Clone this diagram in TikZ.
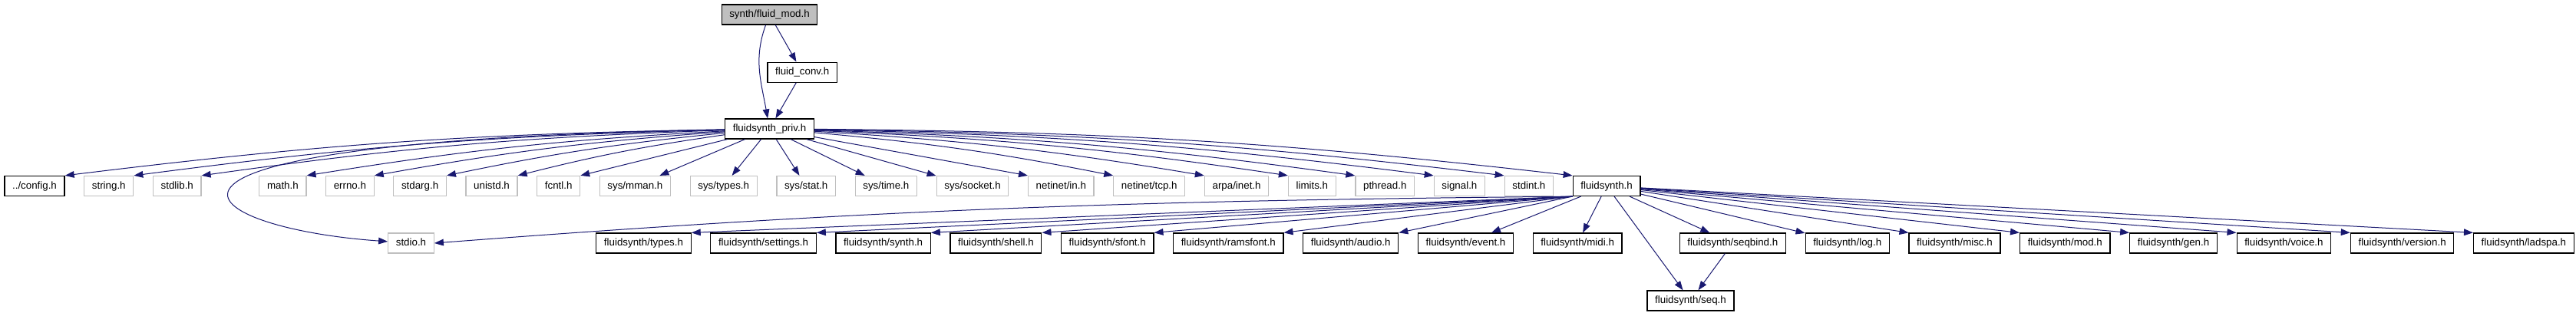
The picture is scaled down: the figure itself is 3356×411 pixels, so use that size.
\documentclass[tikz,border=0pt]{standalone}
\usepackage{fontspec}
\setmainfont{Liberation Sans}
\usepackage{xcolor}
\usetikzlibrary{positioning,arrows.meta}
\definecolor{midblue}{HTML}{191970}
\definecolor{grey75}{HTML}{BFBFBF}

\begin{document}
\begin{tikzpicture}[
  x=0.75pt, y=-0.75pt,
  font=\fontsize{10pt}{12pt}\selectfont,
  node distance=18.4pt,
  box/.style={draw, fill=white, inner xsep=7.6pt, inner ysep=0pt,
              text height=7.4pt, text depth=2.1pt,
              minimum height=19.5pt, line width=0.9pt},
  doc/.style={box},
  ext/.style={box, draw=grey75},
  cur/.style={box, fill=grey75},
  arr/.style={-{Triangle[length=9pt, width=6.5pt]}, midblue, line width=0.75pt},
]
\useasboundingbox (0,0) rectangle (3356,411);
% ---- top: the file itself and what it pulls in ------------------------
\node[cur] (mod) at (1002.5,19) {synth/fluid\_mod.h};
\node[doc, below=36pt of mod, xshift=32pt] (conv) {fluid\_conv.h};
\node[doc] (priv) at (1002.5,168) {fluidsynth\_priv.h};
% ---- system headers row -----------------------------------------------
\node[doc] (config) at (45,242.5) {../config.h};
\node[ext, right=of config] (string) {string.h};
\node[ext, right=of string] (stdlib) {stdlib.h};
\node[ext, right=56pt of stdlib] (math) {math.h};
\node[ext, right=of math] (errno) {errno.h};
\node[ext, right=of errno] (stdarg) {stdarg.h};
\node[ext, right=of stdarg] (unistd) {unistd.h};
\node[ext, right=of unistd] (fcntl) {fcntl.h};
\node[ext, right=of fcntl] (mman) {sys/mman.h};
\node[ext, right=of mman] (systypes) {sys/types.h};
\node[ext, right=of systypes] (sysstat) {sys/stat.h};
\node[ext, right=of sysstat] (systime) {sys/time.h};
\node[ext, right=of systime] (socket) {sys/socket.h};
\node[ext, right=of socket] (netin) {netinet/in.h};
\node[ext, right=of netin] (nettcp) {netinet/tcp.h};
\node[ext, right=of nettcp] (arpainet) {arpa/inet.h};
\node[ext, right=of arpainet] (limits) {limits.h};
\node[ext, right=of limits] (pthread) {pthread.h};
\node[ext, right=of pthread] (signal) {signal.h};
\node[ext, right=of signal] (stdint) {stdint.h};
\node[doc, right=of stdint] (fsynth) {fluidsynth.h};
% ---- public API row ---------------------------------------------------
\node[ext] (stdio) at (535.5,317) {stdio.h};
\node[doc] (ftypes) at (838.5,317) {fluidsynth/types.h};
\node[doc, right=of ftypes] (fsettings) {fluidsynth/settings.h};
\node[doc, right=of fsettings] (fsynthh) {fluidsynth/synth.h};
\node[doc, right=of fsynthh] (fshell) {fluidsynth/shell.h};
\node[doc, right=of fshell] (fsfont) {fluidsynth/sfont.h};
\node[doc, right=of fsfont] (framsfont) {fluidsynth/ramsfont.h};
\node[doc, right=of framsfont] (faudio) {fluidsynth/audio.h};
\node[doc, right=of faudio] (fevent) {fluidsynth/event.h};
\node[doc, right=of fevent] (fmidi) {fluidsynth/midi.h};
\node[doc, right=55.5pt of fmidi] (fseqbind) {fluidsynth/seqbind.h};
\node[doc, right=of fseqbind] (flog) {fluidsynth/log.h};
\node[doc, right=of flog] (fmisc) {fluidsynth/misc.h};
\node[doc, right=of fmisc] (fmod) {fluidsynth/mod.h};
\node[doc, right=of fmod] (fgen) {fluidsynth/gen.h};
\node[doc, right=of fgen] (fvoice) {fluidsynth/voice.h};
\node[doc, right=of fvoice] (fversion) {fluidsynth/version.h};
\node[doc, right=of fversion] (fladspa) {fluidsynth/ladspa.h};
\node[doc] (fseq) at (2202.5,392) {fluidsynth/seq.h};
% ---- edges: top -------------------------------------------------------
\draw[arr] (mod) to[out=250, in=100] (priv);
\draw[arr] (mod) -- (conv);
\draw[arr] (conv) -- (priv);
% ---- edges: fluidsynth_priv.h -----------------------------------------
\draw[arr] (priv) to[bend right=3] (config.north east);
\draw[arr] (priv) to[bend right=3] (string.north east);
\draw[arr] (priv) to[bend right=3] (stdlib.north east);
\draw[arr] (priv) to[bend right=3] (math.north east);
\draw[arr] (priv) to[bend right=3] (errno.north east);
\draw[arr] (priv) to[bend right=3] (stdarg.north east);
\draw[arr] (priv) to[bend right=3] (unistd.north east);
\draw[arr] (priv) -- (fcntl.north east);
\draw[arr] (priv) -- (mman);
\draw[arr] (priv) -- (systypes);
\draw[arr] (priv) -- (sysstat);
\draw[arr] (priv) -- (systime);
\draw[arr] (priv) -- (socket);
\draw[arr] (priv) -- (netin.north west);
\draw[arr] (priv) to[bend left=3] (nettcp.north west);
\draw[arr] (priv) to[bend left=3] (arpainet.north west);
\draw[arr] (priv) to[bend left=3] (limits.north west);
\draw[arr] (priv) to[bend left=3] (pthread.north west);
\draw[arr] (priv) to[bend left=3] (signal.north west);
\draw[arr] (priv) to[bend left=3] (stdint.north west);
\draw[arr] (priv) to[bend left=3] (fsynth.north west);
\draw[arr] (priv) to[out=181, in=176, out distance=648pt, in distance=192pt] (stdio);
% ---- edges: fluidsynth.h ----------------------------------------------
\draw[arr] (fsynth.south west) .. controls +(-430pt,-4pt) and +(430pt,33pt) .. (stdio.east);
\draw[arr] (fsynth.south west) -- (ftypes.north east);
\draw[arr] (fsynth.south west) -- (fsettings.north east);
\draw[arr] (fsynth.south west) -- (fsynthh.north east);
\draw[arr] (fsynth.south west) -- (fshell.north east);
\draw[arr] (fsynth.south west) -- (fsfont.north east);
\draw[arr] (fsynth.south west) -- (framsfont.north east);
\draw[arr] (fsynth.south west) -- (faudio.north east);
\draw[arr] (fsynth) -- (fevent);
\draw[arr] (fsynth) -- (fmidi);
\draw[arr] (fsynth) -- (fseq);
\draw[arr] (fsynth) -- (fseqbind);
\draw[arr] (fsynth) -- (flog);
\draw[arr] (fsynth) -- (fmisc.north west);
\draw[arr] (fsynth) -- (fmod.north west);
\draw[arr] (fsynth) -- (fgen.north west);
\draw[arr] (fsynth) -- (fvoice.north west);
\draw[arr] (fsynth) -- (fversion.north west);
\draw[arr] (fsynth) -- (fladspa.north west);
\draw[arr] (fseqbind) -- (fseq);
\end{tikzpicture}
\end{document}
